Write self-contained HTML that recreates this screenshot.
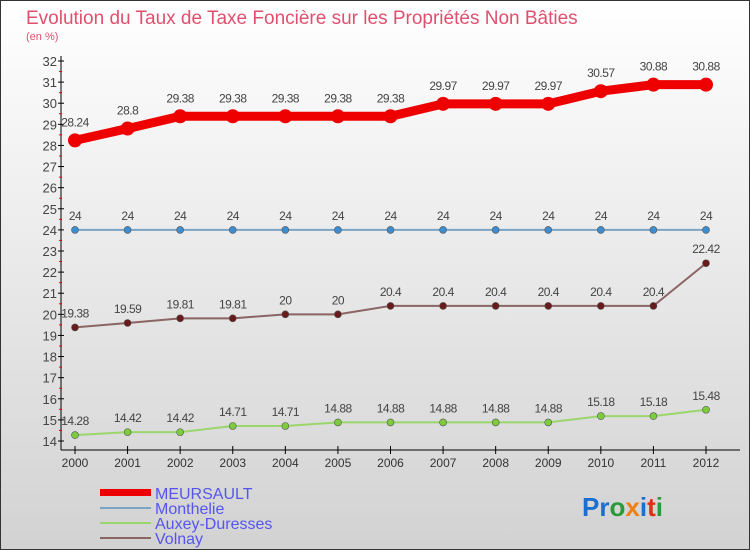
<!DOCTYPE html>
<html><head><meta charset="utf-8"><style>
body{margin:0}
#c{width:750px;height:550px;position:relative;background:linear-gradient(#ffffff,#d2d2d2);box-sizing:border-box;border:1px solid #333;font-family:"Liberation Sans",sans-serif;overflow:hidden}
</style></head><body>
<div id="c">
<svg id="s" width="750" height="550" style="position:absolute;left:-1px;top:-1px">
<text x="26" y="24" font-size="19" fill="#e0506e">Evolution du Taux de Taxe Foncière sur les Propriétés Non Bâties</text>
<text x="26" y="40" font-size="11" fill="#e0506e">(en %)</text>
<g id="g"></g>
<g>
<rect x="100" y="489" width="51" height="7" fill="#e00"/>
<rect x="100" y="507" width="51" height="2" fill="#7ba3c4"/>
<rect x="100" y="522" width="51" height="2" fill="#9ad66c"/>
<rect x="100" y="537" width="51" height="2" fill="#8b6464"/>
<text x="155" y="499" font-size="16" fill="#5555ee">MEURSAULT</text>
<text x="155" y="514" font-size="16" fill="#5555ee">Monthelie</text>
<text x="155" y="529" font-size="16" fill="#5555ee">Auxey-Duresses</text>
<text x="155" y="544" font-size="16" fill="#5555ee">Volnay</text>
</g>
<text x="582" y="516" font-size="26" font-weight="bold"><tspan fill="#1a6fd0">Pr</tspan><tspan fill="#2a9a3a">o</tspan><tspan fill="#f08010">x</tspan><tspan fill="#1a6fd0">i</tspan><tspan fill="#e03010">t</tspan><tspan fill="#2a9a3a">i</tspan></text>
</svg>
</div>
<script>
const years=[2000,2001,2002,2003,2004,2005,2006,2007,2008,2009,2010,2011,2012];
const meursault=[28.24,28.8,29.38,29.38,29.38,29.38,29.38,29.97,29.97,29.97,30.57,30.88,30.88];
const monthelie=[24,24,24,24,24,24,24,24,24,24,24,24,24];
const volnay=[19.38,19.59,19.81,19.81,20,20,20.4,20.4,20.4,20.4,20.4,20.4,22.42];
const auxey=[14.28,14.42,14.42,14.71,14.71,14.88,14.88,14.88,14.88,14.88,15.18,15.18,15.48];
const yTicks=[14,15,16,17,18,19,20,21,22,23,24,25,26,27,28,29,30,31,32];
const x=i=>75+i*(706-75)/(years.length-1);
const y=v=>441-(v-14)*(441-61)/18;
const NS="http://www.w3.org/2000/svg",g=document.getElementById('g');
function mk(t,a){const e=document.createElementNS(NS,t);for(const k in a)e.setAttribute(k,a[k]);g.appendChild(e);return e;}
let e=mk('line',{x1:61,y1:56,x2:61,y2:450,stroke:'#000'});


e=mk('line',{x1:61,y1:450,x2:740,y2:450,stroke:'#000'});


yTicks.forEach(v=>{
 e=mk('line',{x1:58,x2:64,y1:y(v),y2:y(v),stroke:'#000'});
 
 
 if(v<32){e=mk('line',{x1:59,x2:62,y1:y(v+0.5),y2:y(v+0.5),stroke:'#e00'});
 
 }
 e=mk('text',{x:57,y:y(v)+5,'text-anchor':'end','font-size':13,fill:'#444'});e.textContent=v;
 
 
});
years.forEach((yr,i)=>{
 e=mk('line',{x1:x(i),x2:x(i),y1:446,y2:454,stroke:'#000'});
 
 
 e=mk('text',{x:x(i),y:467,'text-anchor':'middle','font-size':12,fill:'#333'});e.textContent=yr;
 
 
});
function series(d,name,col,lw,r,dot,lab){
 e=mk('polyline',{points:d.map((v,i)=>x(i)+','+y(v)).join(' '),fill:'none',stroke:col,'stroke-width':lw,'stroke-linejoin':'round'});
 
 
 d.forEach((v,i)=>{
  e=mk('circle',{cx:x(i),cy:y(v),r:r,fill:dot,stroke:col==='#e00'?'#e00':'#555','stroke-width':col==='#e00'?0:0.6});
  
  
  e=mk('text',{x:x(i),y:y(v)-lab,'text-anchor':'middle','font-size':12,fill:'#444','letter-spacing':'-0.5'});e.textContent=v;
  
  
 });
}
series(meursault,'meursault','#e00',9,7,'#e00',14);
series(monthelie,'monthelie','#7ba3c4',2,3.5,'#3d8ed0',10);
series(volnay,'volnay','#8b6464',2,3.5,'#6a1a1a',10);
series(auxey,'auxey','#9ad66c',2,3.5,'#7ccc3c',10);
</script>
</body></html>
